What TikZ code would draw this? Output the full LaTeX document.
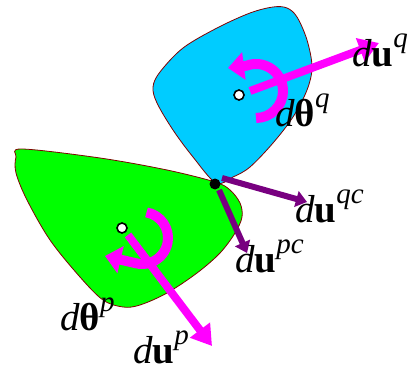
\documentclass[tikz,border=0pt]{standalone}
\usepackage{fontspec}
\setmainfont{Liberation Serif}
\usetikzlibrary{arrows.meta}
\definecolor{bodyq}{RGB}{0,204,255}
\definecolor{bodyp}{RGB}{0,255,0}
\definecolor{mag}{RGB}{255,0,255}
\definecolor{pur}{RGB}{120,0,128}
\definecolor{edgec}{RGB}{128,0,0}
\newcommand\mylbl[2]{#1\raisebox{19pt}{\fontsize{29}{29}\selectfont\itshape #2}}
\begin{document}
\begin{tikzpicture}[x=1pt,y=-1pt,
  body/.style={draw=edgec, line width=0.8pt},
  marrow/.style={draw=mag, line width=8pt, -{Triangle[length=20pt,width=24pt]}},
  parrow/.style={draw=pur, line width=6pt, -{Triangle[length=11pt,width=16pt]}},
  marc/.style={draw=mag, line width=10pt, line join=round, -{Triangle[length=16pt,width=27pt]}},
  wdot/.style={circle, draw=black, line width=1.6pt, fill=white, minimum size=10pt, inner sep=0pt},
  cdot/.style={circle, fill=black, minimum size=11pt, inner sep=0pt},
  lab/.style={anchor=base west, inner sep=0pt, font=\fontsize{39}{39}\selectfont}]
\useasboundingbox (0,0) rectangle (411,371);
% bodies
\draw[body, fill=bodyq] plot[smooth cycle, tension=0.55] coordinates {
 (216,183) (193,157) (173,130) (157,103) (153,87) (160,72) (183,48) (217,28)
 (250,13) (273,7) (287,8) (297,17) (307,40) (312,67) (307,90) (293,117)
 (273,143) (250,167) (233,177)};
\draw[body, fill=bodyp] plot[smooth cycle, tension=0.55] coordinates {
 (22,149) (100,158) (167,170) (215,182) (230,190) (240,203) (242,217)
 (235,233) (220,253) (197,273) (167,293) (140,305) (123,307) (103,300)
 (80,277) (50,240) (27,200) (16,173) (16,157)};
% named points
\coordinate (cq) at (256,91);
\coordinate (cp) at (142,238);
\coordinate (tq) at (228,68);
\coordinate (tp) at (105,256);
\coordinate (uqs) at (250,91);
\coordinate (uqe) at (379,43);
\coordinate (ups) at (128,235);
\coordinate (upe) at (212,346);
\coordinate (qcs) at (222,178);
\coordinate (qce) at (307,202);
\coordinate (pcs) at (219,190);
\coordinate (pce) at (247,253);
% rotations
\draw[marc] (cq) ++(90:27) arc[start angle=90, end angle=-110, radius=27] -- (tq);
\draw[marc] (cp) ++(-80:26) arc[start angle=-80, end angle=105, radius=26] -- (tp);
% translations
\draw[marrow] (uqs) -- (uqe);
\draw[marrow] (ups) -- (upe);
\draw[parrow] (qcs) -- (qce);
\draw[parrow] (pcs) -- (pce);
% dots
\node[wdot] (oq) at (239,95) {};
\node[wdot] (op) at (122,228) {};
\node[cdot] (c) at (215,184) {};
% labels
\node[lab] (lq) at (352,67) {\mylbl{\textit{d}\textbf{u}}{q}};
\node[lab] (lthq) at (275,127) {\mylbl{\textit{d}\textbf{θ}}{q}};
\node[lab] (lqc) at (295,222) {\mylbl{\textit{d}\textbf{u}}{qc}};
\node[lab] (lpc) at (235,272) {\mylbl{\textit{d}\textbf{u}}{pc}};
\node[lab] (lthp) at (60,330) {\mylbl{\textit{d}\textbf{θ}}{p}};
\node[lab] (lp) at (133,363) {\mylbl{\textit{d}\textbf{u}}{p}};
\end{tikzpicture}
\end{document}
